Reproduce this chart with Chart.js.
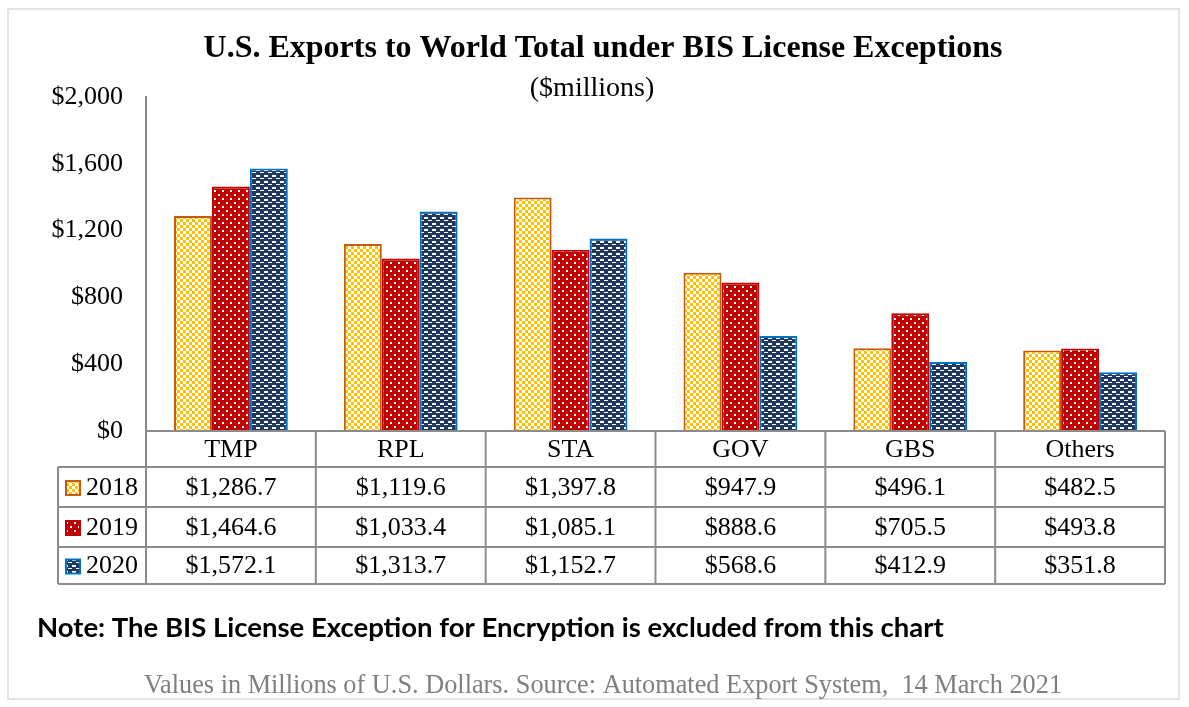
<!DOCTYPE html>
<html>
<head>
<meta charset="utf-8">
<script src="https://cdn.jsdelivr.net/npm/chart.js@4.4.0/dist/chart.umd.min.js"></script>
<style>
  html, body { margin: 0; padding: 0; background: #fff; }
  #wrap { width: 1189px; height: 707px; position: relative; }
</style>
</head>
<body>
<div id="wrap"><canvas id="chart" width="1189" height="707"></canvas></div>
<script>
// ---- data ----
const categories = ['TMP', 'RPL', 'STA', 'GOV', 'GBS', 'Others'];
const years = ['2018', '2019', '2020'];
const values2018 = [1286.7, 1119.6, 1397.8, 947.9, 496.1, 482.5];
const values2019 = [1464.6, 1033.4, 1085.1, 888.6, 705.5, 493.8];
const values2020 = [1572.1, 1313.7, 1152.7, 568.6, 412.9, 351.8];
const yTicks = [0, 400, 800, 1200, 1600, 2000];

const SERIF = "'Liberation Serif', 'Times New Roman', serif";
const gridGray = '#8c8c8c';

// pattern fills roughly like the Excel ones
function makePattern(w, h, bg, fg, rects) {
    const c = document.createElement('canvas');
    c.width = w; c.height = h;
    const g = c.getContext('2d');
    g.fillStyle = bg;
    g.fillRect(0, 0, w, h);
    g.fillStyle = fg;
    rects.forEach(r => g.fillRect(r[0], r[1], r[2], r[3]));
    return document.getElementById('chart').getContext('2d').createPattern(c, 'repeat');
}

const fill2018 = makePattern(6, 6, '#FFC000', '#ffffff', [[0, 0, 3, 3], [3, 3, 3, 3]]);
const fill2019 = makePattern(8, 8, '#C00000', '#ffffff', [[2, 2, 2, 2], [6, 6, 2, 2]]);
const fill2020 = makePattern(8, 6, '#1F3864', '#ffffff', [[0, 1, 4, 2], [4, 4, 4, 1]]);

const seriesFills = [fill2018, fill2019, fill2020];
const seriesBorders = ['#C55A11', '#C00000', '#0070C0'];
const seriesValues = [values2018, values2019, values2020];

function money(v, digits) {
    return '$' + v.toLocaleString('en-US', { minimumFractionDigits: digits, maximumFractionDigits: digits });
}

// titles, data table under the axis, notes, outer frame
const decorPlugin = {
    id: 'decor',
    afterDraw(chart) {
        const ctx = chart.ctx;
        const area = chart.chartArea;
        const x = chart.scales.x;
        const colW = (area.right - area.left) / categories.length;
        const rowTops = [area.bottom, 467, 507, 547, 584];
        const legendLeft = 58;

        ctx.save();
        // outer frame
        ctx.strokeStyle = '#e3e3e3';
        ctx.lineWidth = 2;
        ctx.strokeRect(8, 9, 1171, 690);

        // title
        ctx.fillStyle = '#000';
        ctx.textAlign = 'center';
        ctx.textBaseline = 'middle';
        ctx.font = 'bold 32px ' + SERIF;
        ctx.fillText('U.S. Exports to World Total under BIS License Exceptions', 603, 49);
        ctx.font = '28px ' + SERIF;
        ctx.fillText('($millions)', 592, 89);

        // table grid
        ctx.strokeStyle = gridGray;
        ctx.lineWidth = 2;
        ctx.beginPath();
        ctx.moveTo(area.left, rowTops[0]); ctx.lineTo(area.right, rowTops[0]);
        for (let r = 1; r < rowTops.length; r++) {
            ctx.moveTo(legendLeft, rowTops[r]); ctx.lineTo(area.right, rowTops[r]);
        }
        for (let c = 0; c <= categories.length; c++) {
            const px = area.left + c * colW;
            ctx.moveTo(px, rowTops[0]); ctx.lineTo(px, rowTops[4]);
        }
        ctx.moveTo(legendLeft, rowTops[1]); ctx.lineTo(legendLeft, rowTops[4]);
        ctx.stroke();

        // header labels
        ctx.fillStyle = '#000';
        ctx.font = '26px ' + SERIF;
        categories.forEach((cat, i) => {
            ctx.fillText(cat, x.getPixelForValue(i), (rowTops[0] + rowTops[1]) / 2 + 1);
        });

        // series rows
        years.forEach((yr, s) => {
            const cy = (rowTops[s + 1] + rowTops[s + 2]) / 2 + 1;
            // legend swatch
            ctx.fillStyle = seriesFills[s];
            ctx.fillRect(66, cy - 7, 14, 14);
            ctx.strokeStyle = seriesBorders[s];
            ctx.lineWidth = 2;
            ctx.strokeRect(66, cy - 7, 14, 14);
            ctx.fillStyle = '#000';
            ctx.textAlign = 'left';
            ctx.fillText(yr, 86, cy);
            ctx.textAlign = 'center';
            seriesValues[s].forEach((v, i) => {
                ctx.fillText(money(v, 1), x.getPixelForValue(i), cy);
            });
        });

        // note and source
        ctx.textAlign = 'left';
        ctx.font = 'bold 27.5px Lato, sans-serif';
        ctx.fillText('Note: The BIS License Exception for Encryption is excluded from this chart', 37, 628);
        ctx.textAlign = 'center';
        ctx.fillStyle = '#7f7f7f';
        ctx.font = '26.3px ' + SERIF;
        ctx.fillText('Values in Millions of U.S. Dollars. Source: Automated Export System,  14 March 2021', 603, 686);
        ctx.restore();
    }
};

new Chart(document.getElementById('chart'), {
    type: 'bar',
    data: {
        labels: categories,
        datasets: years.map((yr, s) => ({
            label: yr,
            data: seriesValues[s],
            backgroundColor: seriesFills[s],
            borderColor: seriesBorders[s],
            borderWidth: 2,
            borderSkipped: 'bottom',
            categoryPercentage: 0.67,
            barPercentage: 1.0
        }))
    },
    options: {
        responsive: false,
        animation: false,
        layout: { padding: { left: 0, top: 97, right: 24, bottom: 707 - 431 } },
        plugins: {
            legend: { display: false },
            tooltip: { enabled: false },
            title: { display: false }
        },
        scales: {
            x: { display: false },
            y: {
                min: 0,
                max: 2000,
                afterBuildTicks: scale => { scale.ticks = yTicks.map(v => ({ value: v })); },
                afterFit: scale => { scale.width = 146; },
                grid: { display: false, drawTicks: false },
                border: { display: true, color: gridGray, width: 2 },
                ticks: {
                    padding: 23,
                    color: '#000',
                    font: { family: SERIF, size: 26 },
                    callback: v => money(v, 0)
                }
            }
        }
    },
    plugins: [decorPlugin]
});
</script>
</body>
</html>
